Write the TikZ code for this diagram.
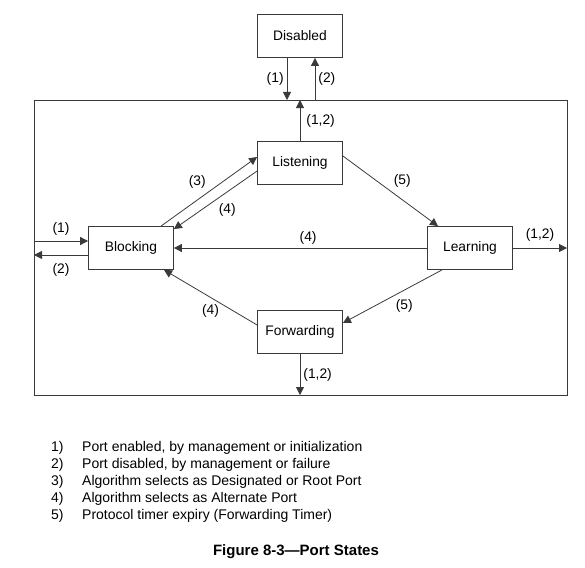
\documentclass[tikz,border=0pt]{standalone}
\usepackage{fontspec}
\setmainfont{Liberation Sans}
\usetikzlibrary{arrows.meta,positioning}
\definecolor{wire}{HTML}{3A3A3A}

\tikzset{
  portstate/.style={draw=wire,line width=0.8pt,fill=white,minimum width=85pt,
                    minimum height=43pt,inner sep=2pt,font=\fontsize{13.8}{15}\selectfont},
  trans/.style={draw=wire,line width=0.8pt,-{Triangle[length=8pt,width=8pt]}},
  cond/.style={font=\fontsize{13.8}{15}\selectfont,inner sep=3pt},
}

\begin{document}
\begin{tikzpicture}[x=1pt,y=-1pt]
  \useasboundingbox (0,0) rectangle (585,567);
  % bridge port boundary
  \draw[wire,line width=0.8pt] (34,100) rectangle (567,395);
  \coordinate (ftop)   at (300,100);
  \coordinate (fleft)  at (34,248);
  \coordinate (fright) at (567,248);
  \coordinate (fbot)   at (300,395);

  % port states
  \node[portstate] (disabled)   at (300,36)  {Disabled};
  \node[portstate] (listening)  at (300,163) {Listening};
  \node[portstate] (blocking)   at (131,248) {Blocking};
  \node[portstate] (learning)   at (470,248) {Learning};
  \node[portstate] (forwarding) at (300,332) {Forwarding};

  % enable / disable
  \draw[trans] ([xshift=-13pt]disabled.south) -- node[cond,left] {(1)} ([xshift=-13pt]ftop);
  \draw[trans] ([xshift=15pt]ftop) -- node[cond,right] {(2)} ([xshift=15pt]disabled.south);
  \draw[trans] (listening.north) -- node[cond,right,xshift=3pt] {(1,2)} (ftop);
  \draw[trans] ([yshift=7pt]fleft) -- node[cond,above=2pt] {(1)} ([yshift=7pt]blocking.west);
  \draw[trans] ([yshift=-7pt]blocking.west) -- node[cond,below=5pt] {(2)} ([yshift=-7pt]fleft);
  \draw[trans] (learning.east) -- node[cond,above=3pt] {(1,2)} (fright);
  \draw[trans] (forwarding.south) -- node[cond,right] {(1,2)} (fbot);

  % state transitions
  \draw[trans] ([xshift=30pt]blocking.north) -- node[cond,above left] {(3)} ([yshift=6pt]listening.west);
  \draw[trans] ([yshift=-8pt]listening.west) -- node[cond,below right] {(4)} ([yshift=-3pt]blocking.north east);
  \draw[trans] ([yshift=7pt]listening.east) -- node[cond,above right] {(5)} ([xshift=-32pt]learning.north);
  \draw[trans] (learning.west) -- node[cond,above,pos=0.47] {(4)} (blocking.east);
  \draw[trans] ([xshift=-28pt]learning.south) -- node[cond,below right] {(5)} ([yshift=9pt]forwarding.east);
  \draw[trans] ([yshift=7pt]forwarding.west) -- node[cond,below=4pt] {(4)} ([xshift=33pt]blocking.south);

  % legend
  \node[anchor=north west,inner sep=0pt,align=left,font=\fontsize{14}{17}\selectfont] (legend) at (51,441.5) {%
    \makebox[31pt][l]{1)}Port enabled, by management or initialization\\
    \makebox[31pt][l]{2)}Port disabled, by management or failure\\
    \makebox[31pt][l]{3)}Algorithm selects as Designated or Root Port\\
    \makebox[31pt][l]{4)}Algorithm selects as Alternate Port\\
    \makebox[31pt][l]{5)}Protocol timer expiry (Forwarding Timer)};
  \node[font=\fontsize{15}{17}\selectfont\bfseries] (caption) at (296,552) {Figure 8-3---Port States};
\end{tikzpicture}
\end{document}
